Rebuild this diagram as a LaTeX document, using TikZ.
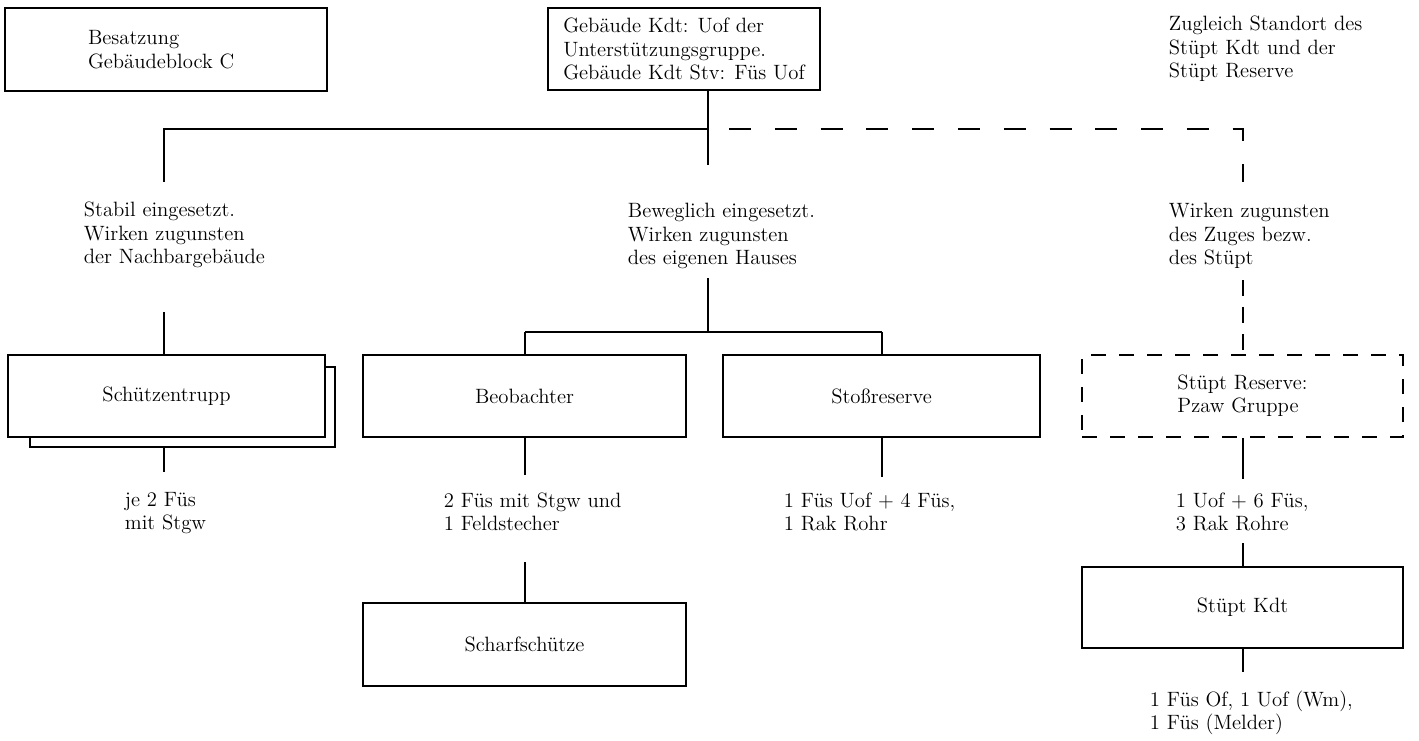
\documentclass[tikz,border=0pt]{standalone}
\usepackage{fontspec}
\usepackage{tikz}
\usetikzlibrary{positioning}

\begin{document}
\begin{tikzpicture}[x=0.02cm,y=-0.02cm,line width=1pt,font=\fontsize{11.8}{13.3}\selectfont,
  box/.style={draw,fill=white,minimum width=6.4cm,minimum height=1.64cm,align=center},
  dbox/.style={box,dash pattern=on 0.3cm off 0.26cm},
  txt/.style={anchor=west,align=left,inner sep=0pt},
  dline/.style={dash pattern=on 0.44cm off 0.476cm},
  vline/.style={dash pattern=on 0.32cm off 0.22cm}]

\useasboundingbox (0,0) rectangle (1419,740);

% obere Reihe
\node[box,minimum width=6.44cm,minimum height=1.66cm,text width=3.12cm,inner xsep=1.66cm,align=left] (besatzung) at (166,49.5) {Besatzung\\Gebäudeblock C};
\node[box,minimum width=5.44cm,align=left] (gebkdt) at (684,49) {Gebäude Kdt: Uof der\\Unterstützungsgruppe.\\Gebäude Kdt Stv: Füs Uof};
\node[txt] (standort) at (1168,49) {Zugleich Standort des\\Stüpt Kdt und der\\Stüpt Reserve};

% Beschreibungen
\node[txt] (stabil)    at (83,235)   {Stabil eingesetzt.\\Wirken zugunsten\\der Nachbargebäude};
\node[txt] (beweglich) at (627,236)  {Beweglich eingesetzt.\\Wirken zugunsten\\des eigenen Hauses};
\node[txt] (zuges)     at (1168,236) {Wirken zugunsten\\des Zuges bezw.\\des Stüpt};

% Kaestchen
\node[box,minimum width=6.1cm,minimum height=1.6cm] (schatten) at (182.5,407) {};
\node[box,minimum width=6.34cm] (schuetzen)  at (166.5,396)  {Schützentrupp};
\node[box,minimum width=6.46cm] (beobachter) at (524.5,396)  {Beobachter};
\node[box,minimum width=6.34cm] (stoss)      at (881.5,396)  {Stoßreserve};
\node[dbox,minimum width=6.42cm,align=left] (reserve) at (1242.5,396) {Stüpt Reserve:\\Pzaw Gruppe};
\node[box,minimum width=6.46cm,minimum height=1.66cm] (scharf) at (524.5,644.5) {Scharfschütze};
\node[box,minimum width=6.42cm,minimum height=1.62cm] (kdt)    at (1242.5,607.5) {Stüpt Kdt};

% Bestand
\node[txt] (je2)     at (124,513)  {je 2 Füs\\mit Stgw};
\node[txt] (stgw)    at (443,512)  {2 Füs mit Stgw und\\1 Feldstecher};
\node[txt] (rohr)    at (783,512)  {1 Füs Uof + 4 Füs,\\1 Rak Rohr};
\node[txt] (rohre)   at (1175,512) {1 Uof + 6 Füs,\\3 Rak Rohre};
\node[txt] (melder)  at (1149,713) {1 Füs Of, 1 Uof (Wm),\\1 Füs (Melder)};

% Verbindungen
\coordinate (m)  at (708,129);
\coordinate (l)  at (164,129);
\coordinate (r)  at (1243,129);
\coordinate (m1) at (708,165);
\coordinate (l1) at (164,182);
\coordinate (r1) at (1243,182);
\coordinate (m2) at (708,278);
\coordinate (l2) at (164,312);
\coordinate (r2) at (1243,280);
\coordinate (m3) at (708,332);
\coordinate (b3) at (525,332);
\coordinate (s3) at (882,332);
\coordinate (l4) at (164,472);
\coordinate (b4) at (525,475);
\coordinate (s4) at (882,477);
\coordinate (r4) at (1243,479);
\coordinate (b5) at (525,562);
\coordinate (r5) at (1243,543);
\coordinate (r6) at (1243,672);

\draw (gebkdt.south -| m) -- (m1);
\draw (m) -- (l) -- (l1);
\draw[dline,dash phase=0.496cm] (m) -- (r) -- (r1);
\draw (l2) -- (schuetzen.north -| l2);
\draw (m2) -- (m3);
\draw (b3) -- (s3);
\draw (b3) -- (beobachter.north -| b3);
\draw (s3) -- (stoss.north -| s3);
\draw[vline] (r2) -- (reserve.north -| r2);

\draw (schatten.south -| l4) -- (l4);
\draw (beobachter.south -| b4) -- (b4);
\draw (stoss.south -| s4) -- (s4);
\draw (reserve.south -| r4) -- (r4);
\draw (b5) -- (scharf.north -| b5);
\draw (r5) -- (kdt.north -| r5);
\draw (kdt.south -| r6) -- (r6);

\end{tikzpicture}
\end{document}
